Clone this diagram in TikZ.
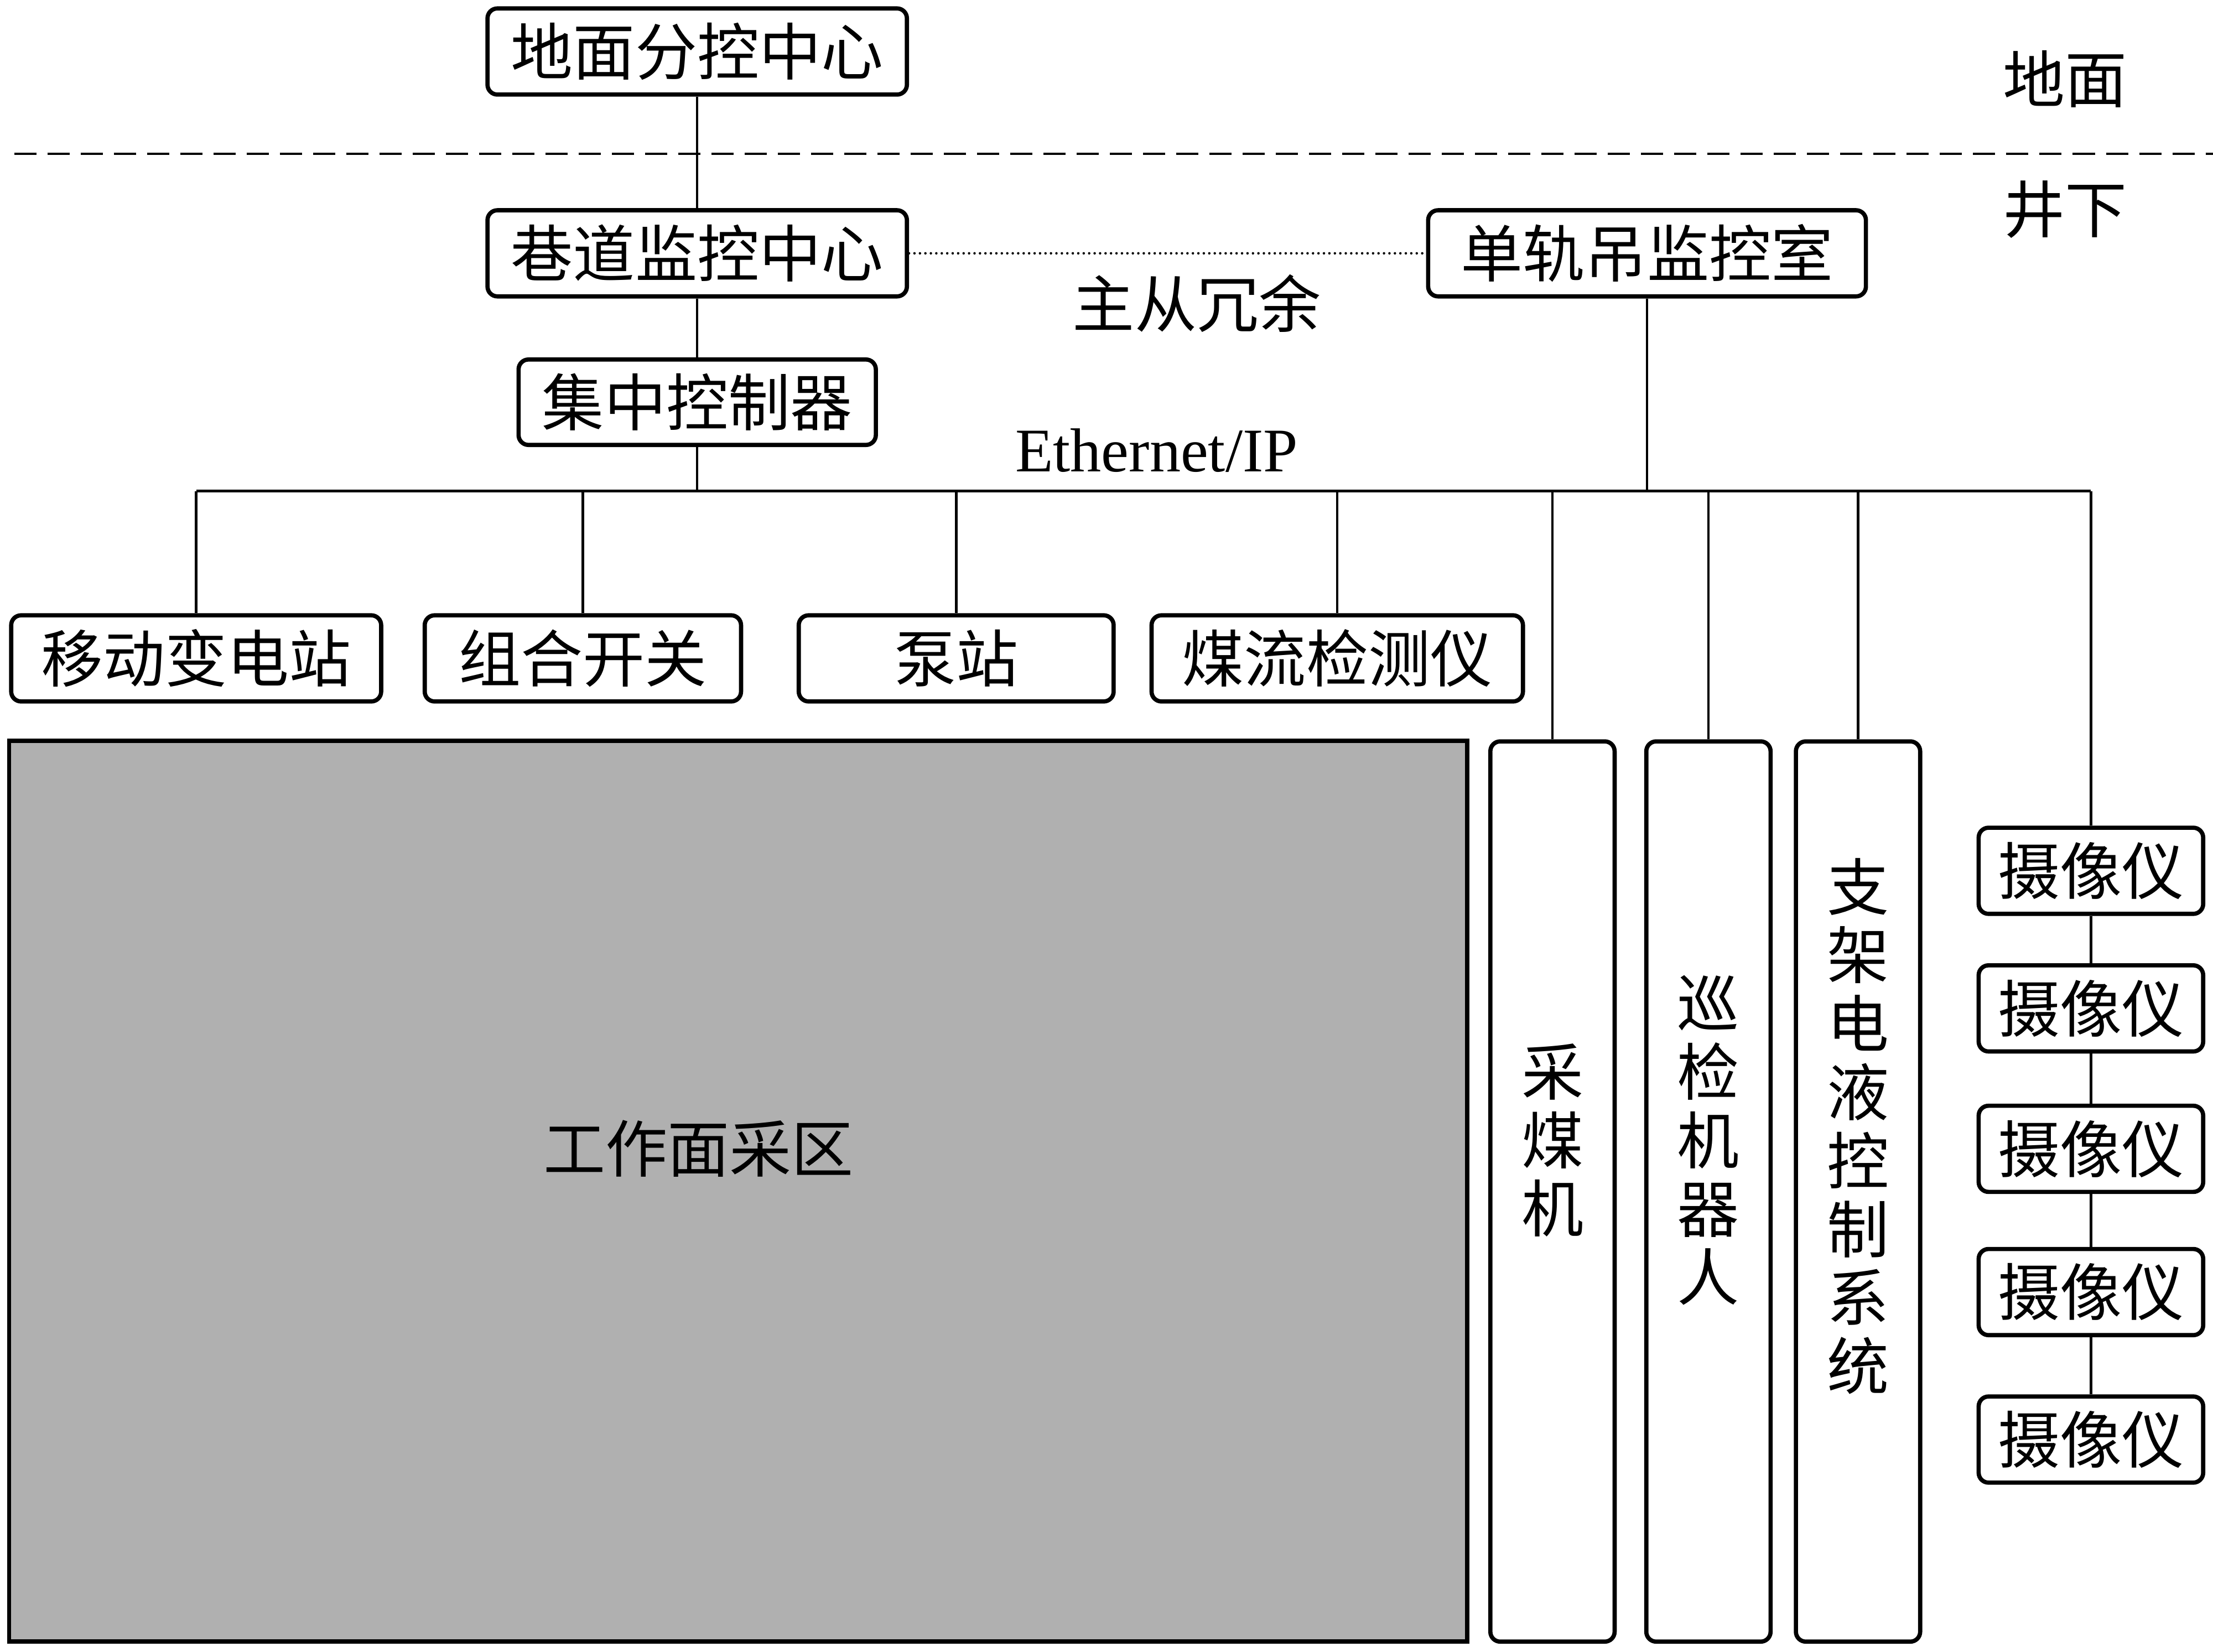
\documentclass[tikz,border=0pt]{standalone}
\usepackage{fontspec}
\setmainfont{Liberation Serif}
\newfontfamily\cjk{Noto Sans CJK SC}
\definecolor{areagray}{HTML}{B0B0B0}
\begin{document}
\begin{tikzpicture}[x=0.01cm,y=-0.01cm,
  every node/.style={inner sep=0pt, font=\cjk\fontsize{12.5}{13.8}\selectfont},
  box/.style={draw, line width=0.85pt, rounded corners=0.07cm, rectangle},
  rowbox/.style={box, minimum height=0.61cm},
  tallbox/.style={box, minimum width=0.88cm, minimum height=6.375cm},
  cambox/.style={box, minimum width=1.59cm, minimum height=0.61cm},
  conn/.style={line width=0.5pt}]
\useasboundingbox (0,0) rectangle (1568,1170.5);

% top boxes
\node[rowbox, minimum width=2.97cm] (ground) at (494,36.5) {地面分控中心};
\node[rowbox, minimum width=2.97cm] (lane) at (494,179.5) {巷道监控中心};
\node[rowbox, minimum width=3.10cm] (mono) at (1167,179.5) {单轨吊监控室};
\node[box, minimum width=2.53cm, minimum height=0.605cm] (ctrl) at (494,285) {集中控制器};

% labels
\node (above) at (1463,56) {地面};
\node (below) at (1463,148.5) {井下};
\node (redund) at (848,215) {主从冗余};
\node[font=\rmfamily\fontsize{12.5}{15}\selectfont, anchor=base] (eth) at (819.5,334) {Ethernet/IP};

% bottom row
\node[rowbox, minimum width=2.62cm] (sub) at (139,466.5) {移动变电站};
\node[rowbox, minimum width=2.24cm] (sw) at (413,466.5) {组合开关};
\node[rowbox, minimum width=2.23cm] (pump) at (677.5,466.5) {泵站};
\node[rowbox, minimum width=2.63cm] (flow) at (947.5,466.5) {煤流检测仪};

% work area
\node[draw, line width=0.85pt, fill=areagray, minimum width=10.325cm, minimum height=6.38cm] (area) at (523,844) {};
\node (areatext) at (495,814) {工作面采区};

% tall boxes
\node[tallbox] (shearer) at (1100,844.25) {};
\node[align=center] (shearertext) at (1100,808) {采\\煤\\机};
\node[tallbox] (robot) at (1210.5,844.25) {};
\node[align=center] (robottext) at (1210.5,808) {巡\\检\\机\\器\\人};
\node[tallbox] (support) at (1316.5,844.25) {};
\node[align=center] (supporttext) at (1316.5,798) {支\\架\\电\\液\\控\\制\\系\\统};

% cameras
\node[cambox] (cam1) at (1481.5,617) {摄像仪};
\node[cambox] (cam2) at (1481.5,714.5) {摄像仪};
\node[cambox] (cam3) at (1481.5,814) {摄像仪};
\node[cambox] (cam4) at (1481.5,915.5) {摄像仪};
\node[cambox] (cam5) at (1481.5,1020) {摄像仪};

% boundary line
\coordinate (dashL) at (10,109);
\coordinate (dashR) at (1568,109);
\draw[conn, dash pattern=on 4.46pt off 2.23pt] (dashL) -- (dashR);

% connectors
\draw[conn] (ground.south) -- (lane.north);
\draw[conn] (lane.south) -- (ctrl.north);
\draw[line width=0.5pt, line cap=round, dash pattern=on 0pt off 1.1pt] (lane.east) -- (mono.west);

\coordinate (busL) at (139,348);
\coordinate (busR) at (1481.5,348);
\draw[conn] (busL) -- (busR);
\draw[conn] (ctrl.south) -- (ctrl.south |- busL);
\draw[conn] (mono.south) -- (mono.south |- busL);
\foreach \n in {sub,sw,pump,flow,shearer,robot,support,cam1}
  \draw[conn] (\n.north) -- (\n.north |- busL);
\draw[conn] (cam1.south) -- (cam2.north);
\draw[conn] (cam2.south) -- (cam3.north);
\draw[conn] (cam3.south) -- (cam4.north);
\draw[conn] (cam4.south) -- (cam5.north);
\end{tikzpicture}
\end{document}
